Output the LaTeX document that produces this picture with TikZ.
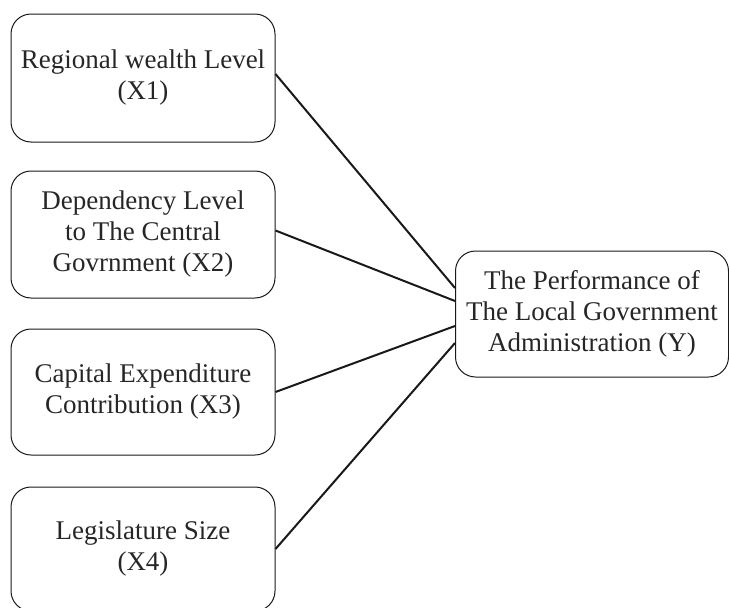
\documentclass[tikz,border=0pt]{standalone}
\usepackage{fontspec}
\setmainfont{Liberation Serif}
\begin{document}
\begin{tikzpicture}[x=1pt,y=-1pt,
  box/.style={draw=black!90, line width=1pt, rounded corners=20pt, align=center,
    font=\fontsize{27}{31}\selectfont, text=black!85, inner sep=0pt},
  lbox/.style={box, minimum width=264pt},
  conn/.style={line width=2pt, black!90}]
\useasboundingbox (0,0) rectangle (729,608);
\begin{scope}
\clip (0,0) rectangle (729,608);
\node[lbox, minimum height=128pt] (x1) at (143,78) {Regional wealth Level\\(X1)};
\node[lbox, minimum height=127pt] (x2) at (143,234.5) {Dependency Level\\to The Central\\Govrnment (X2)};
\node[lbox, minimum height=126pt] (x3) at (143,392) {Capital Expenditure\\Contribution (X3)};
\node[lbox, minimum height=124pt] (x4) at (143,549) {Legislature Size\\(X4)};
\node[box, minimum width=273pt, minimum height=126pt] (y) at (592,314) {The Performance of\\The Local Government\\Administration (Y)};
\draw[conn] ([yshift=4pt]x1.east) -- ([yshift=26pt]y.west);
\draw[conn] ([yshift=4pt]x2.east) -- ([yshift=13pt]y.west);
\draw[conn] (x3.east) -- ([yshift=-12pt]y.west);
\draw[conn] ([yshift=0pt]x4.east) -- ([yshift=-29pt]y.west);
\end{scope}
\end{tikzpicture}
\end{document}
